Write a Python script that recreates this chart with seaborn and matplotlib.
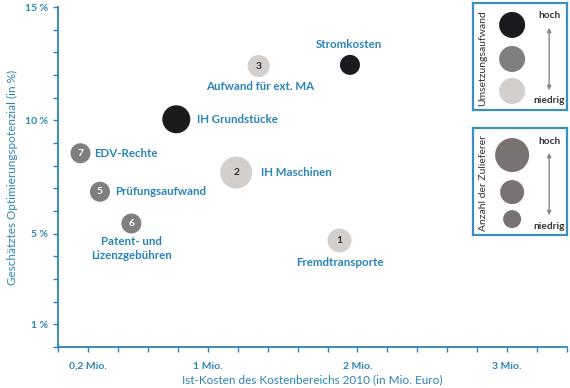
import pandas as pd
import matplotlib.pyplot as plt
import seaborn as sns

# --- Data ---
bereiche = ["Fremdtransporte", "IH Maschinen", "Aufwand für ext. MA", "Prüfungsaufwand",
            "Patent- und\nLizenzgebühren", "EDV-Rechte", "IH Grundstücke", "Stromkosten"]
nummer = ["1", "2", "3", "5", "6", "7", "", ""]
ist_kosten = [1.88, 1.19, 1.34, 0.28, 0.49, 0.15, 0.79, 1.95]        # Mio. Euro
potenzial = [4.7, 7.7, 12.4, 6.85, 5.45, 8.55, 10.05, 12.45]          # %
aufwand = ["niedrig", "niedrig", "niedrig", "mittel", "mittel", "mittel", "hoch", "hoch"]
zulieferer = [144, 256, 121, 100, 100, 100, 196, 100]                 # relative Anzahl

x_ticks = [0.2, 1, 2, 3]
x_ticklabels = ["0,2 Mio.", "1 Mio.", "2 Mio.", "3 Mio."]
y_ticks = [1, 5, 10, 15]
y_ticklabels = ["1 %", "5 %", "10 %", "15 %"]

df = pd.DataFrame({"Bereich": bereiche, "Nr": nummer, "Kosten": ist_kosten,
                   "Potenzial": potenzial, "Aufwand": aufwand, "Zulieferer": zulieferer})

blue = "#2b84b8"
palette = {"hoch": "#1b1b1f", "mittel": "#7f7f7f", "niedrig": "#d2cfcd"}

sns.set_style("white")
plt.rcParams["font.family"] = ["Lato", "DejaVu Sans"]

fig = plt.figure(figsize=(5.7, 3.88), dpi=100)
ax = fig.add_axes([0.1018, 0.1057, 0.893, 0.876])

sns.scatterplot(data=df, x="Kosten", y="Potenzial", hue="Aufwand", palette=palette,
                size="Zulieferer", sizes=(207, 531), size_norm=(100, 256),
                linewidth=0, legend=False, ax=ax, zorder=3)

# number labels inside the bubbles
for _, r in df.iterrows():
    if r["Nr"]:
        tc = "white" if r["Aufwand"] == "mittel" else "#333333"
        ax.text(r["Kosten"], r["Potenzial"], r["Nr"], ha="center", va="center",
                fontsize=7.5, fontweight="bold", color=tc, zorder=4)

# name labels (offsets in points)
offsets = {
    "Fremdtransporte": (0, -16, "center", "center"),
    "IH Maschinen": (18, 0, "left", "center"),
    "Aufwand für ext. MA": (1, -14.5, "center", "center"),
    "Prüfungsaufwand": (11, 0, "left", "center"),
    "Patent- und\nLizenzgebühren": (0, -9, "center", "top"),
    "EDV-Rechte": (10, 0, "left", "center"),
    "IH Grundstücke": (15, 0, "left", "center"),
    "Stromkosten": (-1, 15, "center", "center"),
}
for _, r in df.iterrows():
    dx, dy, ha, va = offsets[r["Bereich"]]
    ax.annotate(r["Bereich"], (r["Kosten"], r["Potenzial"]), xytext=(dx, dy),
                textcoords="offset points", ha=ha, va=va, fontsize=8.3, color=blue,
                fontweight="bold", linespacing=1.3)

ax.set_xlim(0, 3.4)
ax.set_ylim(0, 15)
ax.set_xticks([i * 0.2 for i in range(18)], minor=True)
ax.set_yticks(range(16), minor=True)
ax.set_xticks(x_ticks)
ax.set_xticklabels(x_ticklabels)
ax.set_yticks(y_ticks)
ax.set_yticklabels(y_ticklabels)
ax.tick_params(which="both", direction="out", length=3.5, width=1, color=blue,
               labelcolor=blue, labelsize=7.5, bottom=True, left=True)
ax.tick_params(axis="x", pad=7)
for lab in ax.get_xticklabels() + ax.get_yticklabels():
    lab.set_fontweight("bold")
sns.despine(ax=ax)
for s in ["left", "bottom"]:
    ax.spines[s].set_color(blue)
    ax.spines[s].set_linewidth(1.3)
ax.set_xlabel("Ist-Kosten des Kostenbereichs 2010 (in Mio. Euro)", color=blue, fontsize=8.5, labelpad=3)
ax.set_ylabel("Geschätztes Optimierungspotenzial (in %)", color=blue, fontsize=8.5, labelpad=5)

# legend boxes
def legend_box(bottom, title, colors, radii, ys):
    lax = fig.add_axes([0.830, bottom, 0.165, 0.276])
    lax.set_xlim(0, 94)
    lax.set_ylim(107, 0)
    lax.set_xticks([])
    lax.set_yticks([])
    for s in lax.spines.values():
        s.set_color("#3a8fc2")
        s.set_linewidth(1.6)
    lax.scatter([39] * 3, ys, s=[(2 * r * 0.72) ** 2 for r in radii], c=colors, linewidths=0)
    lax.text(10, 55, title, rotation=90, ha="center", va="center", fontsize=7.5, color="#333333")
    lax.text(76, 13, "hoch", ha="center", va="center", fontsize=7.3, fontweight="bold", color="#333333")
    lax.text(76, 98, "niedrig", ha="center", va="center", fontsize=7.3, fontweight="bold", color="#333333")
    lax.annotate("", xy=(76, 22), xytext=(76, 90),
                 arrowprops=dict(arrowstyle="<|-|>", color="#888888", lw=1, mutation_scale=6))

legend_box(0.7165, "Umsetzungsaufwand",
           [palette["hoch"], palette["mittel"], palette["niedrig"]], [13, 13, 13], [22, 56, 88])
legend_box(0.394, "Anzahl der Zulieferer", ["#7a7272"] * 3, [17, 12, 9], [27, 64, 91])

fig.savefig("out.png", dpi=100)
